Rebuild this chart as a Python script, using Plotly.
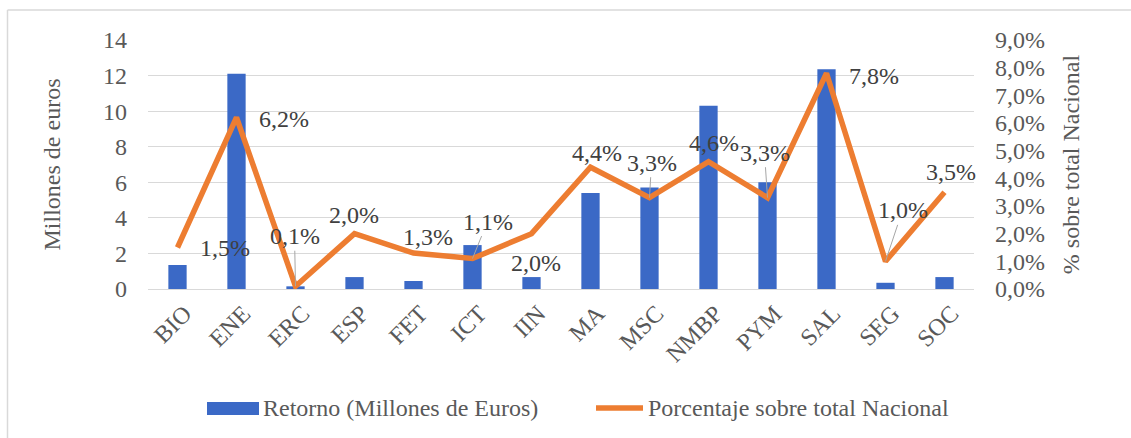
import plotly.graph_objects as go

categories = ["BIO", "ENE", "ERC", "ESP", "FET", "ICT", "IIN", "MA", "MSC", "NMBP", "PYM", "SAL", "SEG", "SOC"]
retorno = [1.35, 12.1, 0.15, 0.67, 0.45, 2.47, 0.67, 5.4, 5.7, 10.3, 6.0, 12.35, 0.35, 0.67]
porcentaje = [1.5, 6.2, 0.1, 2.0, 1.3, 1.1, 2.0, 4.4, 3.3, 4.6, 3.3, 7.8, 1.0, 3.5]
pct_labels = ["1,5%", "6,2%", "0,1%", "2,0%", "1,3%", "1,1%", "2,0%", "4,4%", "3,3%", "4,6%", "3,3%", "7,8%", "1,0%", "3,5%"]
left_ticks = [0, 2, 4, 6, 8, 10, 12, 14]
right_ticks = [0, 1, 2, 3, 4, 5, 6, 7, 8, 9]
right_ticktext = ["0,0%", "1,0%", "2,0%", "3,0%", "4,0%", "5,0%", "6,0%", "7,0%", "8,0%", "9,0%"]
series_names = ["Retorno (Millones de Euros)", "Porcentaje sobre total Nacional"]

# label offsets (pixels) and whether a leader line is drawn
label_offsets = [(47, 0), (47, 2), (-1, -50), (-1, -19), (14, -16), (15, -37), (4, 29),
                 (6, -14), (2, -35), (5, -19), (-3, -45), (47, 3), (17, -51), (6, -20)]
leaders = [False, False, True, False, False, True, False, False, True, False, True, False, True, False]

FONT = "Liberation Serif, Times New Roman, serif"
FS = 24
BAR_COLOR = "#3b69c6"
LINE_COLOR = "#ED7D31"
TXT = "#595959"
W, H = 1131, 438
L, R, T, B = 148, 157, 40, 149
pw = W - L - R
ph = H - T - B


def px(xp):
    return (xp - L) / pw


def py(yp):
    return (H - B - yp) / ph


fig = go.Figure()
fig.add_trace(go.Bar(
    x=categories, y=retorno, name=series_names[0],
    marker=dict(color=BAR_COLOR, line=dict(width=0)), width=0.31, yaxis="y",
    showlegend=False))
fig.add_trace(go.Scatter(
    x=categories, y=porcentaje, name=series_names[1],
    mode="lines", line=dict(color=LINE_COLOR, width=5.5), yaxis="y2",
    showlegend=False))

for i, (c, v, t) in enumerate(zip(categories, porcentaje, pct_labels)):
    ax, ay = label_offsets[i]
    fig.add_annotation(
        x=c, y=v, xref="x", yref="y2", text=t, showarrow=True,
        ax=ax, ay=ay, arrowhead=0, arrowwidth=1,
        arrowcolor="#a6a6a6" if leaders[i] else "rgba(0,0,0,0)",
        font=dict(family=FONT, size=FS, color="#404040"))

# outer border (left and top edges visible)
fig.add_shape(type="line", xref="paper", yref="paper", x0=px(7.5), x1=px(7.5), y0=py(438), y1=py(10),
              line=dict(color="#d9d9d9", width=1.5))
fig.add_shape(type="line", xref="paper", yref="paper", x0=px(7.5), x1=px(1131), y0=py(10), y1=py(10),
              line=dict(color="#d9d9d9", width=1.5))

# custom legend
fig.add_shape(type="rect", xref="paper", yref="paper", x0=px(207), x1=px(259), y0=py(415), y1=py(402),
              line=dict(width=0), fillcolor=BAR_COLOR)
fig.add_annotation(xref="paper", yref="paper", x=px(261), y=py(408), xanchor="left", yanchor="middle",
                   text=series_names[0], showarrow=False, font=dict(family=FONT, size=FS, color=TXT))
fig.add_shape(type="line", xref="paper", yref="paper", x0=px(596), x1=px(643), y0=py(408), y1=py(408),
              line=dict(color=LINE_COLOR, width=5.5))
fig.add_annotation(xref="paper", yref="paper", x=px(646), y=py(408), xanchor="left", yanchor="middle",
                   text=series_names[1], showarrow=False, font=dict(family=FONT, size=FS, color=TXT))

fig.update_layout(
    width=W, height=H,
    margin=dict(l=L, r=R, t=T, b=B, autoexpand=False),
    plot_bgcolor="white", paper_bgcolor="white",
    font=dict(family=FONT, size=FS, color=TXT),
    showlegend=False,
    xaxis=dict(tickangle=-45, tickfont=dict(family=FONT, size=FS, color=TXT),
               showgrid=False, showline=True, linecolor="#d9d9d9", linewidth=1,
               ticks="", zeroline=False, range=[-0.5, 13.5], automargin=False,
               ticklabelshift=7, ticklabelstandoff=0),
    yaxis=dict(range=[0, 14], tickvals=left_ticks, showgrid=True, gridcolor="#d9d9d9",
               gridwidth=1, zeroline=False, showline=False, ticks="",
               ticklabelstandoff=20, automargin=False,
               title=dict(text="Millones de euros", standoff=35,
                          font=dict(family=FONT, size=FS, color=TXT)),
               tickfont=dict(family=FONT, size=FS, color=TXT)),
    yaxis2=dict(range=[0, 9], tickvals=right_ticks, ticktext=right_ticktext, overlaying="y",
                side="right", showgrid=False, zeroline=False, showline=False, ticks="",
                ticklabelstandoff=20, automargin=False,
                title=dict(text="% sobre total Nacional", standoff=18,
                           font=dict(family=FONT, size=FS, color=TXT)),
                tickfont=dict(family=FONT, size=FS, color=TXT)),
)

fig.write_html("out.html", post_script="document.body.style.margin='0';",
               config={"displayModeBar": False})
